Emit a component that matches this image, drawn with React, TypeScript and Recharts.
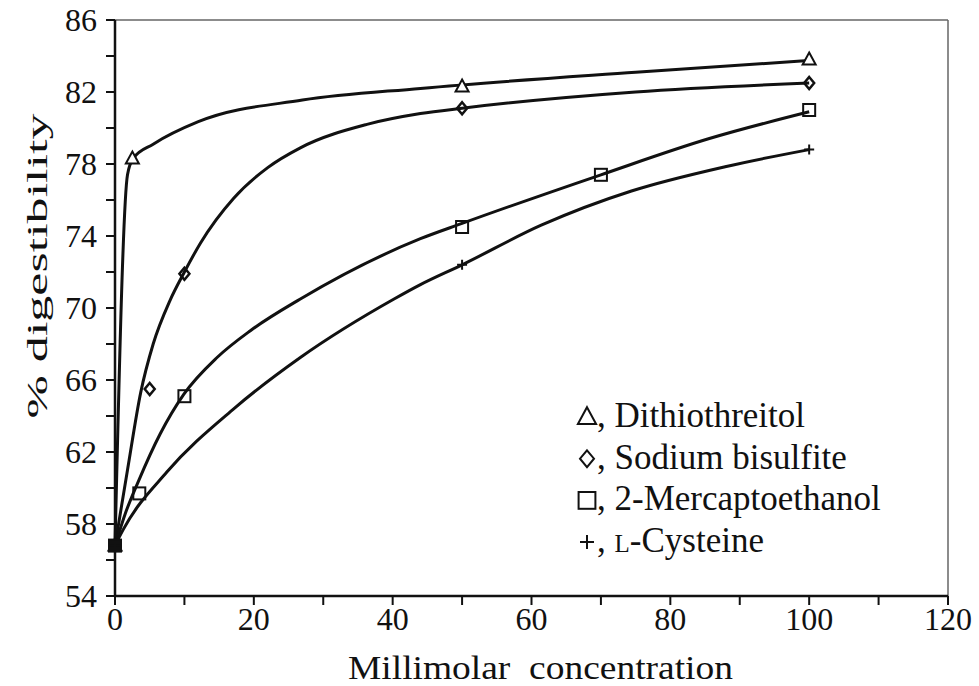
import React from 'react';
import { ComposedChart, Line, Scatter, XAxis, YAxis, ReferenceLine, Label } from 'recharts';

// measured points (markers)
const dttPoints = [
  { x: 0, y: 56.8 }, { x: 2.5, y: 78.3 }, { x: 50, y: 82.3 }, { x: 100, y: 83.8 },
];
const sbPoints = [
  { x: 0, y: 56.8 }, { x: 5, y: 65.5 }, { x: 10, y: 71.9 }, { x: 50, y: 81.1 }, { x: 100, y: 82.5 },
];
const mePoints = [
  { x: 0, y: 56.8 }, { x: 3.5, y: 59.7 }, { x: 10, y: 65.1 }, { x: 50, y: 74.5 }, { x: 70, y: 77.4 }, { x: 100, y: 81.0 },
];
const cyPoints = [
  { x: 0, y: 56.8 }, { x: 50, y: 72.4 }, { x: 100, y: 78.8 },
];

// fitted curves
const dttCurve = [
  { x: 0, y: 56.8 }, { x: 1.8, y: 77.4 }, { x: 2.6, y: 78.3 }, { x: 5.5, y: 79.1 }, { x: 12, y: 80.35 },
  { x: 27, y: 81.55 }, { x: 44, y: 82.2 }, { x: 75, y: 83.1 }, { x: 100, y: 83.75 },
];
const sbCurve = [
  { x: 0, y: 56.8 }, { x: 1.8, y: 61.0 }, { x: 3.7, y: 65.3 }, { x: 5.5, y: 68.0 }, { x: 7.9, y: 70.4 },
  { x: 10, y: 72.0 }, { x: 12.3, y: 73.6 }, { x: 17.1, y: 76.1 }, { x: 22, y: 77.8 }, { x: 26.7, y: 78.9 },
  { x: 36.3, y: 80.2 }, { x: 44, y: 80.8 }, { x: 50, y: 81.1 }, { x: 75, y: 82.0 }, { x: 100, y: 82.5 },
];
const meCurve = [
  { x: 0, y: 56.8 }, { x: 1.5, y: 58.6 }, { x: 3.4, y: 60.4 }, { x: 6.5, y: 63.0 }, { x: 9.9, y: 65.2 },
  { x: 14.7, y: 67.25 }, { x: 19.5, y: 68.74 }, { x: 26.7, y: 70.5 }, { x: 44, y: 73.85 }, { x: 50, y: 74.7 },
  { x: 70, y: 77.4 }, { x: 85.5, y: 79.4 }, { x: 100, y: 80.9 },
];
const cyCurve = [
  { x: 0, y: 56.8 }, { x: 1.2, y: 57.7 }, { x: 7.5, y: 60.9 }, { x: 17.1, y: 64.4 }, { x: 26.7, y: 67.25 },
  { x: 40.2, y: 70.5 }, { x: 44, y: 71.3 }, { x: 50, y: 72.4 }, { x: 61.4, y: 74.6 }, { x: 74.4, y: 76.5 },
  { x: 87.9, y: 77.85 }, { x: 100, y: 78.8 },
];

const seriesNames = ['Dithiothreitol', 'Sodium bisulfite', '2-Mercaptoethanol', 'L-Cysteine'];

const xTicks = [0, 10, 20, 30, 40, 50, 60, 70, 80, 90, 100, 110, 120];
const xTickLabels = [0, 20, 40, 60, 80, 100, 120];
const yTicks = [54, 56, 58, 60, 62, 64, 66, 68, 70, 72, 74, 76, 78, 80, 82, 84, 86];
const yTickLabels = [54, 58, 62, 66, 70, 74, 78, 82, 86];

const FONT = '"Liberation Serif", "Times New Roman", serif';
const INK = '#111';

const TriangleMark = ({ cx, cy, s = 1 }: any) => (
  <path d={`M${cx},${cy - 7 * s}L${cx + 6.5 * s},${cy + 5 * s}L${cx - 6.5 * s},${cy + 5 * s}Z`} fill="#fff" stroke={INK} strokeWidth={2} />
);
const DiamondMark = ({ cx, cy, s = 1 }: any) => (
  <path d={`M${cx},${cy - 6 * s}L${cx + 5 * s},${cy}L${cx},${cy + 6 * s}L${cx - 5 * s},${cy}Z`} fill="none" stroke={INK} strokeWidth={s > 1 ? 2 : 2.5} />
);
const SquareMark = ({ cx, cy, payload, s = 1 }: any) => (
  <rect x={cx - 6 * s} y={cy - 6 * s} width={12 * s} height={12 * s}
    fill={payload && payload.x === 0 ? INK : 'none'} stroke={INK} strokeWidth={2} />
);
const PlusMark = ({ cx, cy, s = 1 }: any) => (
  <path d={`M${cx - 5 * s},${cy}H${cx + 5 * s}M${cx},${cy - 5 * s}V${cy + 5 * s}`} stroke={INK} strokeWidth={2} />
);

const YTick = ({ x, y, payload }: any) =>
  yTickLabels.includes(payload.value) ? (
    <text x={x} y={y} dy="0.34em" textAnchor="end" fontFamily={FONT} fontSize={32} fill={INK}>
      {payload.value}
    </text>
  ) : <g />;

const XTick = ({ x, y, payload }: any) =>
  xTickLabels.includes(payload.value) ? (
    <text x={x} y={y} dy="0.72em" textAnchor="middle" fontFamily={FONT} fontSize={32} fill={INK}>
      {payload.value}
    </text>
  ) : <g />;

const YTitle = ({ viewBox }: any) => {
  const cx = viewBox.x + 36;
  const cy = viewBox.y + viewBox.height / 2 - 42;
  return (
    <text x={cx} y={cy} transform={`rotate(-90 ${cx} ${cy})`} textAnchor="middle" dominantBaseline="central"
      fontFamily={FONT} fontSize={30} fill={INK} textLength={305} lengthAdjust="spacingAndGlyphs">
      % digestibility
    </text>
  );
};

const XTitle = ({ viewBox }: any) => {
  const cx = viewBox.x + viewBox.width / 2 + 9;
  const cy = viewBox.y + 83;
  return (
    <text x={cx} y={cy} textAnchor="middle" fontFamily={FONT} fontSize={34} fill={INK}
      textLength={385} lengthAdjust="spacingAndGlyphs" xmlSpace="preserve">
      Millimolar  concentration
    </text>
  );
};

const legendMarks = [TriangleMark, DiamondMark, SquareMark, PlusMark];

// legend is an overlay so it does not take space from the plot
const LegendBox = () => (
  <svg width={380} height={190} style={{ position: 'absolute', left: 560, top: 390, overflow: 'visible' }}>
    {seriesNames.map((name, i) => {
      const base = 37 + i * 41.7;
      const Mark = legendMarks[i];
      const smallCap = name.startsWith('L-');
      return (
        <g key={name}>
          <Mark cx={27} cy={base - 10} s={1.4} />
          <text x={37} y={base} fontFamily={FONT} fontSize={35} fill={INK} xmlSpace="preserve">
            {', '}
            {smallCap ? <tspan fontSize={25}>L</tspan> : null}
            {smallCap ? name.slice(1) : name}
          </text>
        </g>
      );
    })}
  </svg>
);

export default function App() {
  return (
    <div style={{ position: 'absolute', left: 0, top: 0, width: 979, height: 686, background: '#fff' }}>
      <ComposedChart width={979} height={686} margin={{ top: 20, right: 31, bottom: 0, left: 0 }}>
        <XAxis
          type="number"
          dataKey="x"
          domain={[0, 120]}
          ticks={xTicks}
          interval={0}
          height={90}
          tickSize={9}
          tickMargin={2}
          axisLine={{ stroke: INK, strokeWidth: 2.5 }}
          tickLine={{ stroke: INK, strokeWidth: 2 }}
          tick={<XTick />}
        >
          <Label content={<XTitle />} />
        </XAxis>
        <YAxis
          type="number"
          dataKey="y"
          domain={[54, 86]}
          ticks={yTicks}
          interval={0}
          width={115}
          tickSize={9}
          tickMargin={9}
          axisLine={{ stroke: INK, strokeWidth: 2.5 }}
          tickLine={{ stroke: INK, strokeWidth: 2 }}
          tick={<YTick />}
        >
          <Label content={<YTitle />} />
        </YAxis>
        <ReferenceLine y={86} stroke="#666" strokeWidth={1.5} />
        <ReferenceLine x={120} stroke="#666" strokeWidth={1.5} />

        <Line data={dttCurve} dataKey="y" type="monotone" stroke={INK} strokeWidth={3} dot={false} isAnimationActive={false} />
        <Line data={sbCurve} dataKey="y" type="monotone" stroke={INK} strokeWidth={3} dot={false} isAnimationActive={false} />
        <Line data={meCurve} dataKey="y" type="monotone" stroke={INK} strokeWidth={3} dot={false} isAnimationActive={false} />
        <Line data={cyCurve} dataKey="y" type="monotone" stroke={INK} strokeWidth={3} dot={false} isAnimationActive={false} />

        <Scatter name={seriesNames[0]} data={dttPoints} dataKey="y" shape={TriangleMark} isAnimationActive={false} />
        <Scatter name={seriesNames[1]} data={sbPoints} dataKey="y" shape={DiamondMark} isAnimationActive={false} />
        <Scatter name={seriesNames[2]} data={mePoints} dataKey="y" shape={SquareMark} isAnimationActive={false} />
        <Scatter name={seriesNames[3]} data={cyPoints} dataKey="y" shape={PlusMark} isAnimationActive={false} />
      </ComposedChart>
      <LegendBox />
    </div>
  );
}
